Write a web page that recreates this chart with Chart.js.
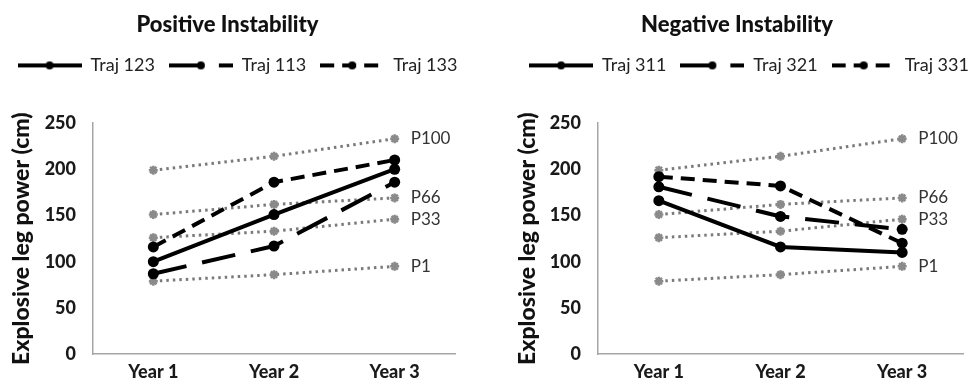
<!DOCTYPE html>
<html>
<head>
<meta charset="utf-8">
<script src="https://cdn.jsdelivr.net/npm/chart.js@4.4.0/dist/chart.umd.min.js"></script>
<style>
  html, body { margin: 0; padding: 0; background: #fff; }
  body { width: 970px; height: 382px; position: relative; overflow: hidden; }
  .box { position: absolute; top: 0; width: 470px; height: 382px; }
  #boxLeft { left: 0; }
  #boxRight { left: 500px; }
</style>
</head>
<body>
<div class="box" id="boxLeft"><canvas id="chartLeft"></canvas></div>
<div class="box" id="boxRight"><canvas id="chartRight"></canvas></div>
<script>
// Data
const years = ["Year 1", "Year 2", "Year 3"];
const yTicks = [0, 50, 100, 150, 200, 250];

// percentile reference lines (same in both panels)
const pctNames = ["P100", "P66", "P33", "P1"];
const p100 = [199, 214, 233];
const p66  = [151, 162, 169];
const p33  = [126, 133, 146];
const p1   = [79, 86, 95];

// positive instability
const posNames = ["Traj 123", "Traj 113", "Traj 133"];
const traj123 = [100, 151, 200];
const traj113 = [87, 117, 186];
const traj133 = [116, 186, 210];

// negative instability
const negNames = ["Traj 311", "Traj 321", "Traj 331"];
const traj311 = [166, 116, 110];
const traj321 = [181, 149, 135];
const traj331 = [192, 182, 120];

const FONT = "Lato, 'Open Sans', sans-serif";
const dashes = [[], [34, 16], [14, 8]];

// legend sample: dashed line with marker in the middle
function legendSample(dash) {
  const c = document.createElement("canvas");
  c.width = 64; c.height = 12;
  const g = c.getContext("2d");
  g.strokeStyle = "#000";
  g.lineWidth = 4;
  g.setLineDash(dash);
  g.beginPath(); g.moveTo(0, 6); g.lineTo(64, 6); g.stroke();
  g.fillStyle = "#000";
  g.beginPath(); g.arc(32, 6, 4, 0, Math.PI * 2); g.fill();
  return c;
}
const samples = dashes.map(legendSample);

function trajSets(names, values) {
  return names.map((n, i) => ({
    label: n,
    data: values[i],
    borderColor: "#000",
    backgroundColor: "#000",
    borderWidth: 4,
    borderDash: dashes[i],
    pointRadius: 5.5,
    pointBorderWidth: 0,
    tension: 0
  }));
}

function pctSets() {
  return [p100, p66, p33, p1].map((v, i) => ({
    label: pctNames[i],
    data: v,
    borderColor: "#7a7a7a",
    backgroundColor: "#8a8a8a",
    borderWidth: 3,
    borderDash: [2.5, 4],
    pointStyle: "star",
    pointRadius: 4.5,
    pointBorderColor: "#8a8a8a",
    pointBorderWidth: 2.5,
    tension: 0
  }));
}

// P labels next to last point
const pLabels = {
  id: "pLabels",
  afterDatasetsDraw(chart) {
    const ctx = chart.ctx;
    ctx.save();
    ctx.font = "17px " + FONT;
    ctx.fillStyle = "#333";
    ctx.textBaseline = "middle";
    ctx.textAlign = "left";
    chart.data.datasets.forEach((ds, i) => {
      if (!pctNames.includes(ds.label)) return;
      const pt = chart.getDatasetMeta(i).data[2];
      ctx.fillText(ds.label, pt.x + 16, pt.y);
    });
    ctx.restore();
  }
};

// keep the legend on one row and fix its height so the plot top lands right
function legendFix(shift) {
  return {
    id: "legendFix",
    beforeInit(chart) {
      const fit = chart.legend.fit;
      chart.legend.fit = function () {
        this.maxWidth = this.chart.width + 200;
        fit.call(this);
        this.height = 80.6;
      };
    },
    afterLayout(chart) {
      // widen so the draw loop does not wrap; shift moves the centre
      chart.legend.left -= 100 - shift;
      chart.legend.right += 100 + shift;
    }
  };
}

function makeChart(id, title, names, values, padLeft, padRight, yWidth, shift) {
  return new Chart(document.getElementById(id), {
    type: "line",
    data: { labels: years, datasets: trajSets(names, values).concat(pctSets()) },
    options: {
      responsive: true,
      maintainAspectRatio: false,
      animation: false,
      layout: { padding: { left: padLeft, right: padRight, top: 0, bottom: 0 } },
      plugins: {
        title: {
          display: true, text: title, color: "#111",
          font: { family: FONT, size: 22, weight: 900 },
          padding: { top: 12, bottom: 4 }
        },
        legend: {
          display: true,
          labels: {
            color: "#222",
            font: { family: FONT, size: 18 },
            padding: 14,
            usePointStyle: true,
            pointStyleWidth: 64,
            generateLabels(chart) {
              const items = Chart.defaults.plugins.legend.labels.generateLabels(chart);
              return items
                .filter(it => !pctNames.includes(it.text))
                .map(it => Object.assign(it, { pointStyle: samples[it.datasetIndex] }));
            }
          }
        },
        tooltip: { enabled: false }
      },
      scales: {
        x: {
          offset: true,
          grid: { display: false, drawTicks: false },
          border: { color: "#a6a6a6", width: 1.5 },
          ticks: { color: "#1a1a1a", padding: 7, font: { family: FONT, size: 18, weight: 900 } },
          afterFit(s) { s.height = 27; }
        },
        y: {
          min: 0, max: 250,
          afterBuildTicks(s) { s.ticks = yTicks.map(v => ({ value: v })); },
          grid: { display: false, drawTicks: false },
          border: { color: "#a6a6a6", width: 1.5 },
          ticks: { color: "#1a1a1a", padding: 17, font: { family: FONT, size: 18, weight: 900 } },
          title: {
            display: true, text: "Explosive leg power (cm)", color: "#111",
            font: { family: FONT, size: 23, weight: 900 },
            padding: { top: 8, bottom: 0 }
          },
          afterFit(s) { s.width = yWidth; }
        }
      }
    },
    plugins: [pLabels, legendFix(shift)]
  });
}

makeChart("chartLeft", "Positive Instability", posNames, [traj123, traj113, traj133], 0, 15, 93, 10);
makeChart("chartRight", "Negative Instability", negNames, [traj311, traj321, traj331], 6, 2, 92, 12);
</script>
</body>
</html>
